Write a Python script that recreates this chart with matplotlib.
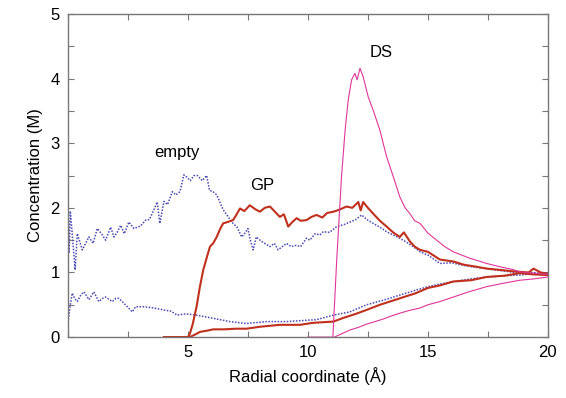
import matplotlib
matplotlib.use("Agg")
import matplotlib.pyplot as plt
from matplotlib.ticker import MultipleLocator

plt.rcParams['font.family'] = ['Liberation Sans', 'DejaVu Sans']

# -------------------------
# data
# -------------------------
empty_hi_x = [0.0, 0.05, 0.1, 0.2, 0.3, 0.39, 0.6, 0.875, 1.05, 1.22, 1.4, 1.57, 1.78, 1.92,
              2.05, 2.2, 2.35, 2.54, 2.75, 3.03, 3.24, 3.4, 3.58, 3.72, 3.83, 4.0, 4.15, 4.35,
              4.5, 4.67, 4.83, 4.94, 5.1, 5.25, 5.39, 5.6, 5.78, 5.9, 6.05, 6.2, 6.47, 6.7,
              6.88, 7.05, 7.24, 7.4, 7.5, 7.6, 7.72, 7.85, 8.0, 8.2, 8.42, 8.6, 8.76, 9.0,
              9.11, 9.3, 9.5, 9.7, 9.94, 10.08, 10.3, 10.5, 10.64, 10.9, 11.2, 11.5, 11.75,
              12.0, 12.24, 12.45, 12.72, 13.0, 13.28, 13.55, 13.83, 14.1, 14.39, 14.67, 15.0,
              15.5, 16.0, 16.33, 16.8, 17.44, 18.0, 18.83, 19.4, 20.0]
empty_hi_y = [2.05, 1.3, 1.95, 1.5, 1.04, 1.6, 1.35, 1.55, 1.45, 1.68, 1.6, 1.5, 1.7, 1.55,
              1.62, 1.73, 1.6, 1.78, 1.68, 1.72, 1.81, 1.82, 1.97, 2.09, 1.76, 2.1, 2.05, 2.25,
              2.2, 2.25, 2.51, 2.48, 2.42, 2.5, 2.5, 2.42, 2.5, 2.27, 2.25, 2.2, 1.97, 1.85,
              1.76, 1.7, 1.55, 1.62, 1.68, 1.5, 1.35, 1.55, 1.5, 1.45, 1.4, 1.45, 1.35, 1.42,
              1.45, 1.4, 1.42, 1.40, 1.53, 1.5, 1.6, 1.58, 1.63, 1.62, 1.71, 1.74, 1.78,
              1.82, 1.89, 1.82, 1.76, 1.7, 1.63, 1.58, 1.53, 1.47, 1.40, 1.32, 1.27,
              1.14, 1.15, 1.12, 1.09, 1.06, 1.03, 0.99, 1.0, 0.97]

empty_lo_x = [0.0, 0.1, 0.18, 0.28, 0.39, 0.55, 0.67, 0.875, 1.08, 1.29, 1.45, 1.57, 1.85, 2.0,
              2.125, 2.4, 2.68, 2.82, 3.17, 3.58, 4.0, 4.3, 4.55, 4.9, 5.36, 6.06, 6.75, 7.44,
              8.28, 9.11, 9.94, 10.36, 11.06, 11.75, 12.44, 13.14, 13.83, 14.53, 15.0, 15.5,
              16.06, 16.8, 17.44, 18.2, 18.83, 19.4, 20.0]
empty_lo_y = [0.22, 0.5, 0.68, 0.6, 0.55, 0.66, 0.70, 0.58, 0.70, 0.55, 0.6, 0.62, 0.55, 0.6,
              0.6, 0.5, 0.39, 0.47, 0.47, 0.45, 0.42, 0.4, 0.34, 0.36, 0.34, 0.29, 0.24, 0.21,
              0.24, 0.24, 0.26, 0.27, 0.34, 0.39, 0.50, 0.57, 0.65, 0.73, 0.78, 0.82,
              0.86, 0.9, 0.93, 0.95, 0.96, 0.98, 0.99]

gp_hi_x = [4.0, 5.0, 5.08, 5.2, 5.36, 5.5, 5.64, 5.8, 5.92, 6.05, 6.2, 6.35, 6.47, 6.65, 6.88,
           7.0, 7.17, 7.35, 7.58, 7.8, 8.0, 8.2, 8.42, 8.6, 8.83, 9.0, 9.18, 9.35, 9.53, 9.7,
           9.94, 10.15, 10.36, 10.6, 10.8, 11.06, 11.3, 11.61, 11.85, 12.1, 12.2, 12.3, 12.5,
           12.72, 13.0, 13.28, 13.55, 13.83, 14.0, 14.25, 14.45, 14.67, 15.0, 15.5, 16.06,
           16.5, 17.0, 17.44, 18.0, 18.5, 18.83, 19.2, 19.4, 19.7, 20.0]
gp_hi_y = [0, 0, 0.05, 0.2, 0.47, 0.78, 1.04, 1.25, 1.40, 1.45, 1.55, 1.68, 1.76, 1.78, 1.81,
           1.88, 1.99, 1.95, 2.04, 1.98, 1.94, 2.0, 2.02, 1.95, 1.86, 1.9, 1.71, 1.78, 1.84, 1.8,
           1.81, 1.86, 1.89, 1.85, 1.92, 1.94, 1.97, 2.02, 2.0, 2.09, 1.96, 2.09, 2.0,
           1.91, 1.8, 1.71, 1.62, 1.55, 1.62, 1.48, 1.40, 1.35, 1.32, 1.2, 1.17,
           1.12, 1.09, 1.06, 1.04, 1.02, 1.01, 1.0, 1.06, 1.0, 0.98]

gp_lo_x = [4.0, 5.08, 5.3, 5.5, 5.8, 6.06, 6.5, 7.0, 7.44, 8.0, 8.83, 9.3, 9.67, 10.2, 10.6,
           11.06, 11.5, 12.0, 12.44, 13.0, 13.83, 14.5, 15.0, 15.5, 16.06, 16.8, 17.44, 18.2,
           18.83, 19.4, 20.0]
gp_lo_y = [0, 0, 0.04, 0.08, 0.1, 0.12, 0.12, 0.13, 0.13, 0.16, 0.19, 0.19, 0.19, 0.22, 0.23,
           0.24, 0.3, 0.36, 0.42, 0.5, 0.60, 0.68, 0.76, 0.8, 0.86, 0.88, 0.93, 0.95,
           0.99, 0.97, 0.96]

ds_hi_x = [10.0, 11.04, 11.2, 11.4, 11.55, 11.68, 11.82, 11.96, 12.05, 12.17, 12.3, 12.51,
           12.72, 13.0, 13.28, 13.56, 13.83, 14.05, 14.25, 14.45, 14.67, 15.0, 15.36, 15.7,
           16.06, 16.4, 16.75, 17.1, 17.44, 18.1, 18.5, 18.83, 19.4, 20.0]
ds_hi_y = [0, 0, 1.19, 2.48, 3.2, 3.67, 3.98, 4.08, 3.98, 4.16, 4.03, 3.72,
           3.51, 3.20, 2.79, 2.48, 2.17, 2.0, 1.91, 1.8, 1.76, 1.61, 1.50, 1.4,
           1.32, 1.27, 1.22, 1.18, 1.14, 1.08, 1.05, 1.01, 0.99, 0.97]

ds_lo_x = [11.1, 11.4, 11.75, 12.1, 12.44, 12.8, 13.14, 13.5, 13.83, 14.2, 14.67, 15.0, 15.5,
           16.06, 16.7, 17.44, 18.1, 18.83, 19.4, 20.0]
ds_lo_y = [0, 0.05, 0.11, 0.15, 0.2, 0.24, 0.28, 0.33, 0.37, 0.41, 0.45, 0.5, 0.55,
           0.62, 0.7, 0.78, 0.83, 0.88, 0.9, 0.93]

# -------------------------
# plot
# -------------------------
fig = plt.figure(figsize=(5.66, 3.98), dpi=100)
ax = fig.add_axes([0.120, 0.153, 0.848, 0.812])

blue = "#4848b4"
red = "#c0301c"
pink = "#e0359a"

ax.plot(empty_hi_x, empty_hi_y, color=blue, lw=1.1, ls=(0, (1, 1)))
ax.plot(empty_lo_x, empty_lo_y, color=blue, lw=1.1, ls=(0, (1, 1)))
ax.plot(gp_hi_x, gp_hi_y, color=red, lw=1.5)
ax.plot(gp_lo_x, gp_lo_y, color=red, lw=1.5)
ax.plot(ds_hi_x, ds_hi_y, color=pink, lw=0.8)
ax.plot(ds_lo_x, ds_lo_y, color=pink, lw=0.8)

ax.text(4.54, 2.86, "empty", fontsize=12, ha="center", va="center")
ax.text(8.08, 2.34, "GP", fontsize=12, ha="center", va="center")
ax.text(13.04, 4.41, "DS", fontsize=12, ha="center", va="center")

ax.set_xlim(0, 20)
ax.set_ylim(0, 5)
ax.set_xticks([5, 10, 15, 20])
ax.xaxis.set_minor_locator(MultipleLocator(2.5))
ax.set_yticks([0, 1, 2, 3, 4, 5])
ax.yaxis.set_minor_locator(MultipleLocator(0.5))
ax.tick_params(which="both", direction="in", top=True, right=True, labelsize=12,
               color="#777777", length=4, width=0.8, pad=6)
for s in ax.spines.values():
    s.set_color("#777777")
    s.set_linewidth(1.0)

ax.set_xlabel("Radial coordinate (Å)", fontsize=12, labelpad=5)
ax.set_ylabel("Concentration (M)", fontsize=12, labelpad=5)

fig.savefig("out.png", dpi=100)
